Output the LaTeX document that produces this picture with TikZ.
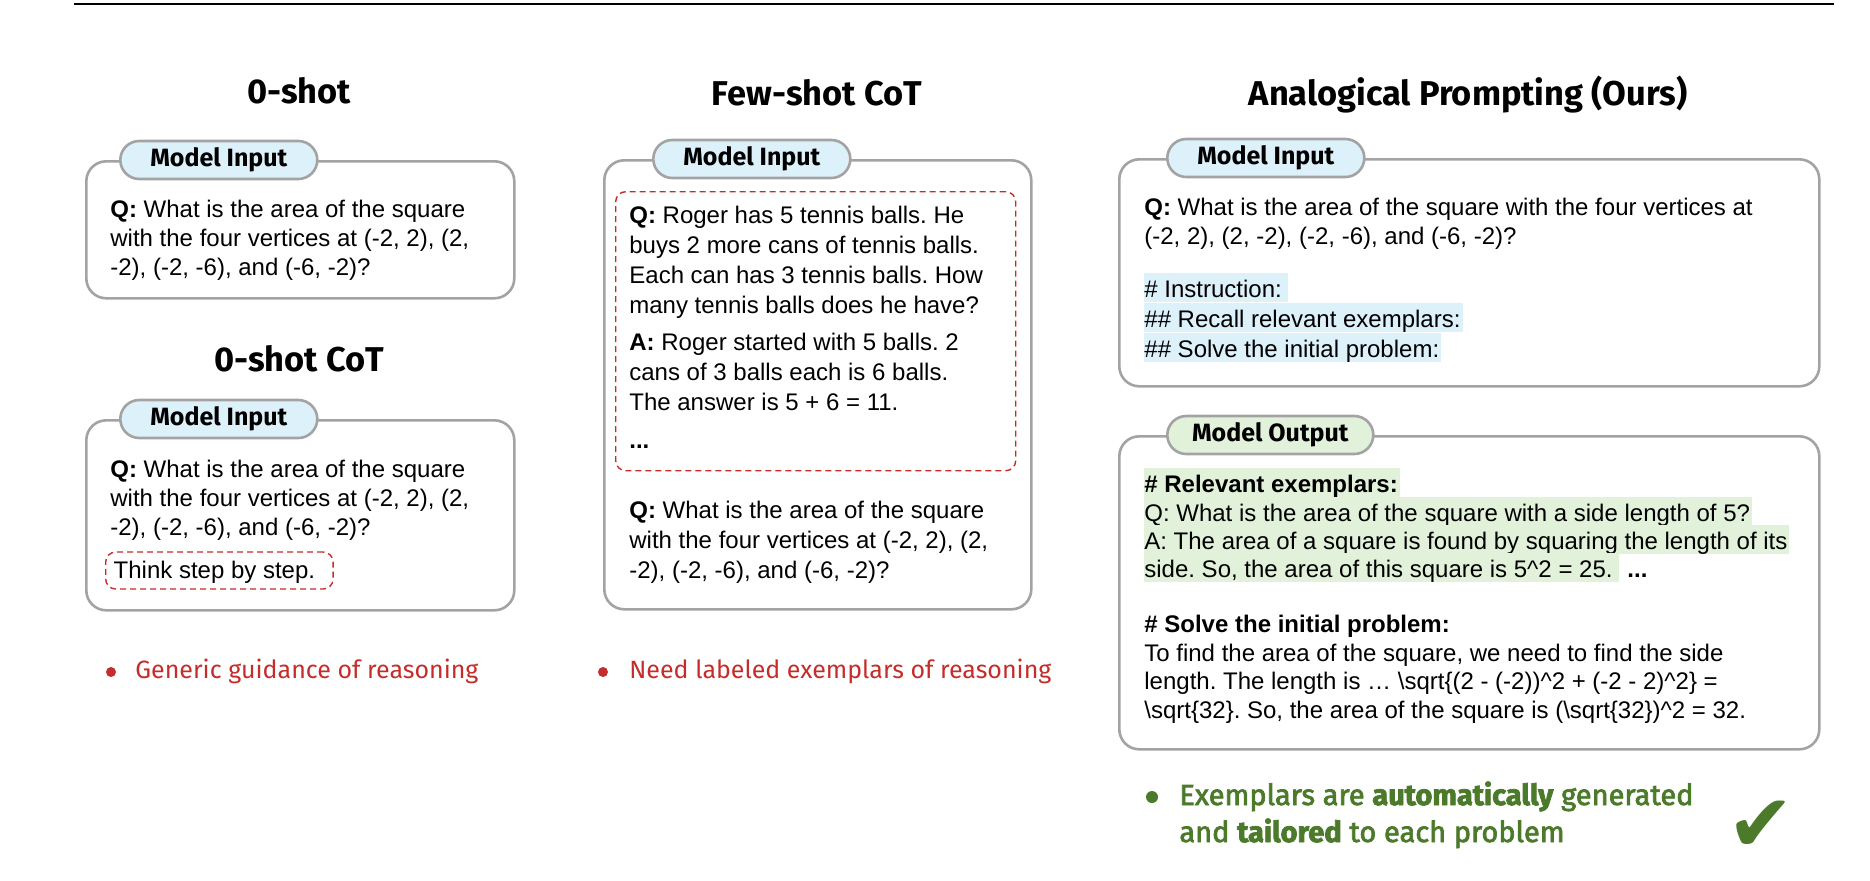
\documentclass[tikz,border=0pt]{standalone}
\usepackage{fontspec}
\setmainfont{Liberation Sans}
\newfontfamily\headfont{Fira Sans}
\newfontfamily\notefont[FakeBold=2.5]{Fira Sans}
\newfontfamily\tickfont{DejaVu Sans}
\usetikzlibrary{positioning,calc}
\definecolor{framegray}{HTML}{A3A3A3}
\definecolor{inputblue}{HTML}{DDF1FB}
\definecolor{outputgreen}{HTML}{E2F1DA}
\definecolor{cotred}{HTML}{C42D2A}
\definecolor{oursgreen}{HTML}{4B7A2A}
\frenchspacing

\tikzset{
  panel/.style={draw=framegray, line width=1.3pt, rounded corners=10pt, anchor=north west, inner sep=0pt},
  tag/.style={draw=framegray, line width=1.3pt, rounded corners=9.5pt, anchor=west, minimum height=19pt, minimum width=98.5pt, inner xsep=2pt, inner ysep=0pt, font=\headfont\bfseries\fontsize{12.5}{15}\selectfont},
  title/.style={anchor=base, inner sep=0pt, font=\headfont\bfseries\fontsize{17.2}{19}\selectfont},
  prompt/.style={align=left, anchor=base west, inner sep=0pt, font=\fontsize{12}{14.5}\selectfont},
  shots/.style={draw=cotred, line width=0.7pt, dash pattern=on 3pt off 2pt, rounded corners=5pt},
  hilite/.style={anchor=base west, inner xsep=0pt, inner ysep=0pt, text height=12pt, text depth=2.5pt, font=\fontsize{12}{14.5}\selectfont},
  bullet/.style={circle, inner sep=0pt, minimum size=5pt},
  caveat/.style={anchor=base west, inner sep=0pt, text=cotred, font=\headfont\fontsize{12.5}{15}\selectfont},
}

\begin{document}
\begin{tikzpicture}[x=0.5pt, y=-0.5pt]
  \useasboundingbox (0,0) rectangle (1870,880);
  \draw[line width=1.3pt] (74,4) -- (1834,4);

  % 0-shot
  % (multi-line nodes sit on their last baseline)
  \node[title] (zstitle) at (299,103) {0-shot};
  \node[panel, minimum width=214pt, minimum height=68.5pt] (zsbox) at (85,160) {};
  \node[tag, fill=inputblue] (zstag) at ($(zsbox.north west)+(34,0)$) {Model Input};
  \node[prompt] (zsq) at (110,275) {\textbf{Q:} What is the area of the square\\with the four vertices at (-2, 2), (2,\\-2), (-2, -6), and (-6, -2)?};

  % 0-shot CoT
  \node[title] (zctitle) at (299,371) {0-shot CoT};
  \node[panel, minimum width=214pt, minimum height=95pt] (zcbox) at (85,419) {};
  \node[tag, fill=inputblue] (zctag) at ($(zcbox.north west)+(34,0)$) {Model Input};
  \node[prompt] (zcq) at (110,535) {\textbf{Q:} What is the area of the square\\with the four vertices at (-2, 2), (2,\\-2), (-2, -6), and (-6, -2)?};
  \node[prompt, shots, inner xsep=4pt, inner ysep=2pt, text height=11pt, text depth=3.5pt] (zcstep) at (105,578) {Think step by step.\hspace*{5pt}};

  % few-shot CoT
  \node[title] (fstitle) at (817,105) {Few-shot CoT};
  \node[panel, minimum width=213.5pt, minimum height=224.5pt] (fsbox) at (603,159) {};
  \node[tag, fill=inputblue] (fstag) at ($(fsbox.north west)+(49,0)$) {Model Input};
  \node[shots, anchor=north west, minimum width=200pt, minimum height=139.5pt] (fsshots) at (615,191) {};
  \node[prompt, font=\fontsize{12}{15}\selectfont] (fsq1) at (629,313) {\textbf{Q:} Roger has 5 tennis balls. He\\buys 2 more cans of tennis balls.\\Each can has 3 tennis balls. How\\many tennis balls does he have?};
  \node[prompt, font=\fontsize{12}{15}\selectfont] (fsa1) at (629,410) {\textbf{A:} Roger started with 5 balls. 2\\cans of 3 balls each is 6 balls.\\The answer is 5 + 6 = 11.};
  \node[prompt] (fsdots) at (629,448) {\textbf{...}};
  \node[prompt, font=\fontsize{12}{15}\selectfont] (fsq) at (629,578) {\textbf{Q:} What is the area of the square\\with the four vertices at (-2, 2), (2,\\-2), (-2, -6), and (-6, -2)?};

  % what each baseline needs
  \node[bullet, fill=cotred] (zsdot) at (111,672) {};
  \node[caveat] (zsnote) at (135,678) {Generic guidance of reasoning};
  \node[bullet, fill=cotred] (fsdot) at (603,672) {};
  \node[caveat] (fsnote) at (629,678) {Need labeled exemplars of reasoning};

  % analogical prompting
  \node[title] (aptitle) at (1468,105) {Analogical Prompting (Ours)};
  \node[panel, minimum width=350pt, minimum height=113.5pt] (apin) at (1118,158) {};
  \node[tag, fill=inputblue] (apintag) at ($(apin.north west)+(48,0)$) {Model Input};
  \node[prompt] (apq) at (1144,244) {\textbf{Q:} What is the area of the square with the four vertices at\\(-2, 2), (2, -2), (-2, -6), and (-6, -2)?};
  \node[hilite, fill=inputblue] (apins1) at (1144,297) {\# Instruction:\hspace*{3pt}};
  \node[hilite, fill=inputblue] (apins2) at (1144,327) {\#\# Recall relevant exemplars:\hspace*{1pt}};
  \node[hilite, fill=inputblue] (apins3) at (1144,357) {\#\# Solve the initial problem:\hspace*{1pt}};

  \node[panel, minimum width=350pt, minimum height=156.5pt] (apout) at (1118,435) {};
  \node[tag, fill=outputgreen, minimum width=103pt] (apouttag) at ($(apout.north west)+(48,0)$) {Model Output};
  \node[hilite, fill=outputgreen] (apex1) at (1144,492) {\textbf{\# Relevant exemplars:}\hspace*{1pt}};
  \node[hilite, fill=outputgreen] (apex2) at (1144,521) {Q: What is the area of the square with a side length of 5?\hspace*{1pt}};
  \node[hilite, fill=outputgreen] (apex3) at (1144,549) {A: The area of a square is found by squaring the length of its\hspace*{1pt}};
  \node[hilite, fill=outputgreen] (apex4) at (1144,577) {side. So, the area of this square is 5\textasciicircum 2 = 25.\hspace*{3pt}};
  \node[prompt] (apexdots) at ($(apex4.base east)+(8,0)$) {\textbf{...}};
  \node[prompt] (apsolve) at (1144,632) {\textbf{\# Solve the initial problem:}};
  \node[prompt, font=\fontsize{12}{14.25}\selectfont] (apans) at (1144,718) {To find the area of the square, we need to find the side\\length. The length is … \textbackslash sqrt\{(2 - (-2))\textasciicircum 2 + (-2 - 2)\textasciicircum 2\} =\\\textbackslash sqrt\{32\}. So, the area of the square is (\textbackslash sqrt\{32\})\textasciicircum 2 = 32.};

  \node[bullet, fill=oursgreen, minimum size=6pt] (apdot) at (1152,797) {};
  \node[caveat, text=oursgreen, font=\notefont\fontsize{14.5}{18.5}\selectfont, align=left] (apnote) at (1179,842) {Exemplars are \textbf{automatically} generated\\and \textbf{tailored} to each problem};
  \node[text=oursgreen, font=\tickfont\fontsize{40}{40}\selectfont] (aptick) at (1761,826) {✔};
\end{tikzpicture}
\end{document}
